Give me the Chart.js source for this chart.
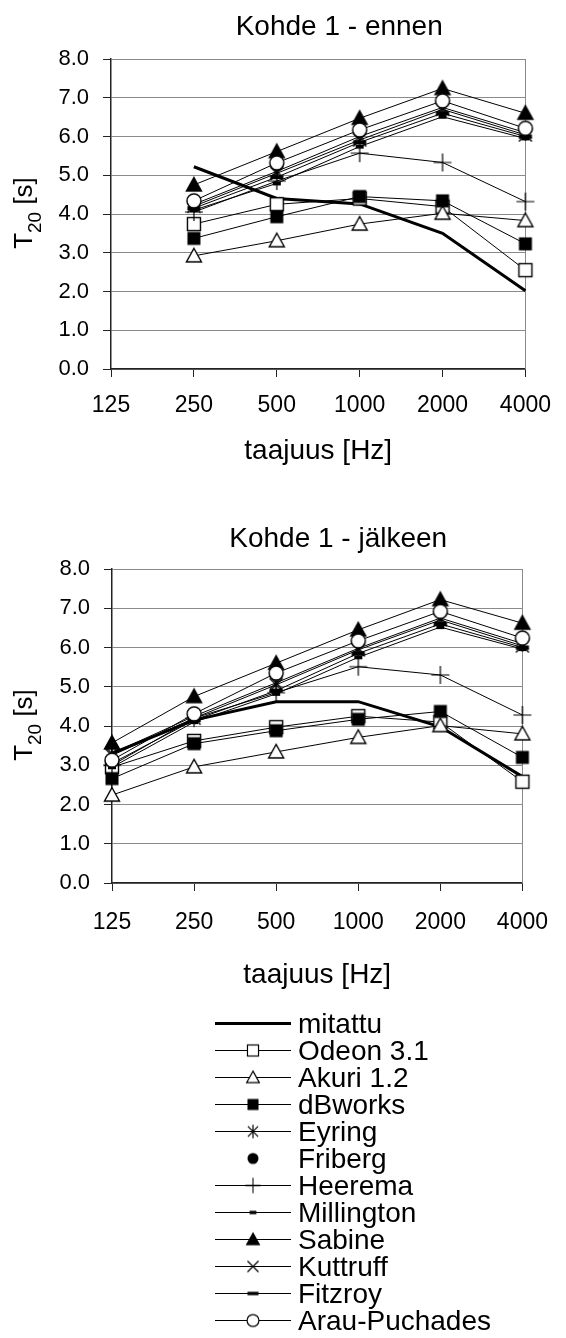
<!DOCTYPE html>
<html>
<head>
  <meta charset="UTF-8">
  <title>Kohde 1 - T20</title>
  <script src="https://cdn.jsdelivr.net/npm/chart.js"></script>
  <style>
    body {
      margin: 0;
      background: #fff;
      width: 566px;
      height: 1338px;
      position: relative;
      overflow: hidden;
      font-family: "Liberation Sans", Arial, sans-serif;
    }
    .chart { position: absolute; left: 0; }
    #legend { position: absolute; left: 215px; top: 1010px; }
    .row { display: flex; align-items: center; height: 27px; }
    .row span { font-size: 28px; line-height: 27px; margin-left: 7px; color: #000; white-space: nowrap; }
  </style>
</head>
<body>
  <canvas id="chartBefore" class="chart" width="566" height="500" style="top:0"></canvas>
  <canvas id="chartAfter" class="chart" width="566" height="505" style="top:500px"></canvas>
  <div id="legend"></div>

  <script>
    const freqLabels = ['125', '250', '500', '1000', '2000', '4000'];
    const seriesNames = ['mitattu', 'Odeon 3.1', 'Akuri 1.2', 'dBworks', 'Eyring', 'Friberg',
      'Heerema', 'Millington', 'Sabine', 'Kuttruff', 'Fitzroy', 'Arau-Puchades'];

    // T20 [s], ennen (no 125 Hz value)
    const mitattuEnnen    = [null, 5.22, 4.40, 4.26, 3.50, 2.02];
    const odeonEnnen      = [null, 3.74, 4.25, 4.40, 4.19, 2.55];
    const akuriEnnen      = [null, 2.92, 3.31, 3.74, 4.02, 3.83];
    const dbworksEnnen    = [null, 3.37, 3.93, 4.45, 4.34, 3.23];
    const eyringEnnen     = [null, 4.25, 5.10, 6.00, 6.75, 6.10];
    const fribergEnnen    = [null, 4.30, 5.28, 6.14, 6.90, 6.18];
    const heeremaEnnen    = [null, 4.05, 4.85, 5.57, 5.33, 4.32];
    const millingtonEnnen = [null, 4.10, 4.79, 5.74, 6.51, 5.95];
    const sabineEnnen     = [null, 4.75, 5.61, 6.47, 7.24, 6.60];
    const kuttruffEnnen   = [null, 4.20, 5.05, 5.91, 6.70, 6.04];
    const fitzroyEnnen    = [null, 4.15, 4.95, 5.85, 6.60, 6.00];
    const arauEnnen       = [null, 4.34, 5.32, 6.17, 6.92, 6.21];

    // T20 [s], jälkeen
    const mitattuJalkeen    = [3.30, 4.15, 4.62, 4.62, 3.98, 2.71];
    const odeonJalkeen      = [2.95, 3.62, 3.97, 4.25, 4.10, 2.58];
    const akuriJalkeen      = [2.24, 2.96, 3.34, 3.71, 4.01, 3.80];
    const dbworksJalkeen    = [2.66, 3.55, 3.88, 4.17, 4.37, 3.20];
    const eyringJalkeen     = [3.30, 4.25, 5.10, 5.98, 6.75, 6.10];
    const fribergJalkeen    = [3.10, 4.28, 5.32, 6.15, 6.90, 6.22];
    const heeremaJalkeen    = [3.00, 4.20, 4.85, 5.51, 5.30, 4.28];
    const millingtonJalkeen = [2.95, 4.10, 4.82, 5.75, 6.52, 5.96];
    const sabineJalkeen     = [3.57, 4.75, 5.60, 6.45, 7.22, 6.62];
    const kuttruffJalkeen   = [3.25, 4.20, 5.05, 5.94, 6.70, 6.04];
    const fitzroyJalkeen    = [3.05, 4.15, 4.90, 5.85, 6.60, 6.00];
    const arauJalkeen       = [3.13, 4.31, 5.35, 6.17, 6.92, 6.24];

    const FONT = '"Liberation Sans", Arial, sans-serif';
    Chart.defaults.font.family = FONT;

    // line width and marker per series, same order as seriesNames
    const seriesStyles = [
      { line: 3, marker: null },
      { line: 1, marker: 'openSquare' },
      { line: 1, marker: 'openTriangle' },
      { line: 1, marker: 'filledSquare' },
      { line: 1, marker: 'star' },
      { line: 0, marker: 'filledCircle' },
      { line: 1, marker: 'plus' },
      { line: 1, marker: 'shortDash' },
      { line: 1, marker: 'filledTriangle' },
      { line: 1, marker: 'cross' },
      { line: 1, marker: 'longDash' },
      { line: 1, marker: 'openCircle' }
    ];

    function makeMarker(kind, s) {
      const c = document.createElement('canvas');
      c.width = 22; c.height = 22;
      const g = c.getContext('2d');
      g.translate(11, 11);
      g.scale(s, s);
      g.strokeStyle = '#000';
      g.fillStyle = '#000';
      g.lineWidth = 1.4;
      const tri = () => {
        g.beginPath(); g.moveTo(0, -7.5); g.lineTo(7.5, 6); g.lineTo(-7.5, 6); g.closePath();
      };
      switch (kind) {
        case 'openSquare':
          g.fillStyle = '#fff'; g.fillRect(-6.5, -6.5, 13, 13); g.strokeRect(-6.5, -6.5, 13, 13); break;
        case 'filledSquare':
          g.fillRect(-6.5, -6.5, 13, 13); break;
        case 'openTriangle':
          tri(); g.fillStyle = '#fff'; g.fill(); g.stroke(); break;
        case 'filledTriangle':
          tri(); g.fill(); g.stroke(); break;
        case 'star':
          g.beginPath();
          g.moveTo(-6, -6); g.lineTo(6, 6); g.moveTo(6, -6); g.lineTo(-6, 6);
          g.moveTo(0, -8); g.lineTo(0, 8); g.stroke(); break;
        case 'cross':
          g.beginPath();
          g.moveTo(-6.5, -6.5); g.lineTo(6.5, 6.5); g.moveTo(6.5, -6.5); g.lineTo(-6.5, 6.5); g.stroke(); break;
        case 'plus':
          g.lineWidth = 1.2;
          g.beginPath();
          g.moveTo(-9, 0); g.lineTo(9, 0); g.moveTo(0, -9); g.lineTo(0, 9); g.stroke(); break;
        case 'filledCircle':
          g.beginPath(); g.arc(0, 0, 6.5, 0, Math.PI * 2); g.fill(); break;
        case 'openCircle':
          g.beginPath(); g.arc(0, 0, 7, 0, Math.PI * 2);
          g.fillStyle = '#fff'; g.fill(); g.stroke(); break;
        case 'shortDash':
          g.fillRect(-4, -2, 8, 4); break;
        case 'longDash':
          g.fillRect(-6.5, -2, 13, 4); break;
      }
      return c;
    }

    const markerImages = {};
    const legendMarkers = {};
    seriesStyles.forEach(st => {
      if (st.marker) {
        markerImages[st.marker] = makeMarker(st.marker, 1);
        legendMarkers[st.marker] = makeMarker(st.marker, 0.85);
      }
    });

    // chart title, right frame line and the T20 axis title with subscript
    function decorPlugin(title, titleDrop) {
      return {
        id: 'decor',
        beforeDatasetsDraw(chart) {
          const { ctx, chartArea: a } = chart;
          ctx.save();
          ctx.strokeStyle = '#8a8a8a';
          ctx.lineWidth = 1;
          ctx.beginPath();
          ctx.moveTo(Math.round(a.right) + 0.5, a.top);
          ctx.lineTo(Math.round(a.right) + 0.5, a.bottom);
          ctx.stroke();
          ctx.restore();
        },
        afterDraw(chart) {
          const { ctx, chartArea: a } = chart;
          ctx.save();
          ctx.fillStyle = '#000';
          ctx.font = '28px ' + FONT;
          ctx.textAlign = 'center';
          ctx.textBaseline = 'alphabetic';
          ctx.fillText(title, (a.left + a.right) / 2 + 21, a.top - titleDrop);

          ctx.translate(31.5, (a.top + a.bottom) / 2 - 1);
          ctx.rotate(-Math.PI / 2);
          ctx.textAlign = 'left';
          const big = '26px ' + FONT, small = '19px ' + FONT;
          ctx.font = big;
          const wT = ctx.measureText('T').width;
          const wS = ctx.measureText(' [s]').width;
          ctx.font = small;
          const w20 = ctx.measureText('20').width;
          let x = -(wT + w20 + wS) / 2;
          ctx.font = big;
          ctx.fillText('T', x, 0);
          ctx.font = small;
          ctx.fillText('20', x + wT, 9);
          ctx.font = big;
          ctx.fillText(' [s]', x + wT + w20, 0);
          ctx.restore();
        }
      };
    }

    function makeChart(id, title, values, g) {
      const datasets = seriesNames.map((name, i) => {
        const st = seriesStyles[i];
        return {
          label: name,
          data: values[i],
          borderColor: '#000',
          backgroundColor: '#000',
          borderWidth: st.line,
          showLine: st.line > 0,
          pointStyle: st.marker ? markerImages[st.marker] : false,
          pointRadius: st.marker ? 6 : 0,
          pointHoverRadius: st.marker ? 6 : 0,
          tension: 0,
          clip: false,
          order: seriesNames.length - i
        };
      });
      const titlePad = g.height - 16.8 - (g.bottom + g.titleGap);

      return new Chart(document.getElementById(id), {
        type: 'line',
        data: { labels: freqLabels, datasets: datasets },
        options: {
          responsive: false,
          animation: false,
          events: [],
          layout: { padding: { top: g.top, right: 566 - g.right, left: 0, bottom: 0 } },
          plugins: { legend: { display: false }, tooltip: { enabled: false } },
          scales: {
            x: {
              type: 'category',
              offset: false,
              grid: { drawOnChartArea: false, drawTicks: true, tickLength: 8, tickColor: '#222' },
              border: { color: '#222', width: 1.5 },
              ticks: { color: '#000', font: { size: 23 }, padding: g.tickPad, autoSkip: false, maxRotation: 0 },
              title: {
                display: true, text: 'taajuus [Hz]', color: '#000',
                font: { size: 28 }, padding: { top: 0, bottom: titlePad }
              },
              afterFit(s) { s.height = g.height - g.bottom; }
            },
            y: {
              min: 0,
              max: 8,
              grid: { color: '#8a8a8a', tickColor: '#222', tickLength: 8 },
              border: { color: '#222', width: 1.5 },
              ticks: { stepSize: 1, color: '#000', font: { size: 22 }, padding: 14, callback: v => v.toFixed(1) },
              afterFit(s) { s.width = g.left; }
            }
          }
        },
        plugins: [decorPlugin(title, g.titleDrop)]
      });
    }

    makeChart('chartBefore', 'Kohde 1 - ennen',
      [mitattuEnnen, odeonEnnen, akuriEnnen, dbworksEnnen, eyringEnnen, fribergEnnen,
       heeremaEnnen, millingtonEnnen, sabineEnnen, kuttruffEnnen, fitzroyEnnen, arauEnnen],
      { left: 111, right: 533, top: 59, bottom: 369, height: 500, tickPad: 15, titleGap: 82, titleDrop: 24 });

    makeChart('chartAfter', 'Kohde 1 - jälkeen',
      [mitattuJalkeen, odeonJalkeen, akuriJalkeen, dbworksJalkeen, eyringJalkeen, fribergJalkeen,
       heeremaJalkeen, millingtonJalkeen, sabineJalkeen, kuttruffJalkeen, fitzroyJalkeen, arauJalkeen],
      { left: 112, right: 538, top: 69, bottom: 383, height: 505, tickPad: 18, titleGap: 92, titleDrop: 22 });

    // legend: line sample with marker, then the series name
    const legendBox = document.getElementById('legend');
    seriesNames.forEach((name, i) => {
      const st = seriesStyles[i];
      const row = document.createElement('div');
      row.className = 'row';
      const sym = document.createElement('canvas');
      sym.width = 76; sym.height = 27;
      const c = sym.getContext('2d');
      if (st.line) {
        c.strokeStyle = '#000';
        c.lineWidth = st.line;
        c.beginPath(); c.moveTo(0, 13.5); c.lineTo(76, 13.5); c.stroke();
      }
      if (st.marker) {
        const m = legendMarkers[st.marker];
        c.drawImage(m, 38 - m.width / 2, 13.5 - m.height / 2);
      }
      const label = document.createElement('span');
      label.textContent = name;
      row.appendChild(sym);
      row.appendChild(label);
      legendBox.appendChild(row);
    });
  </script>
</body>
</html>
